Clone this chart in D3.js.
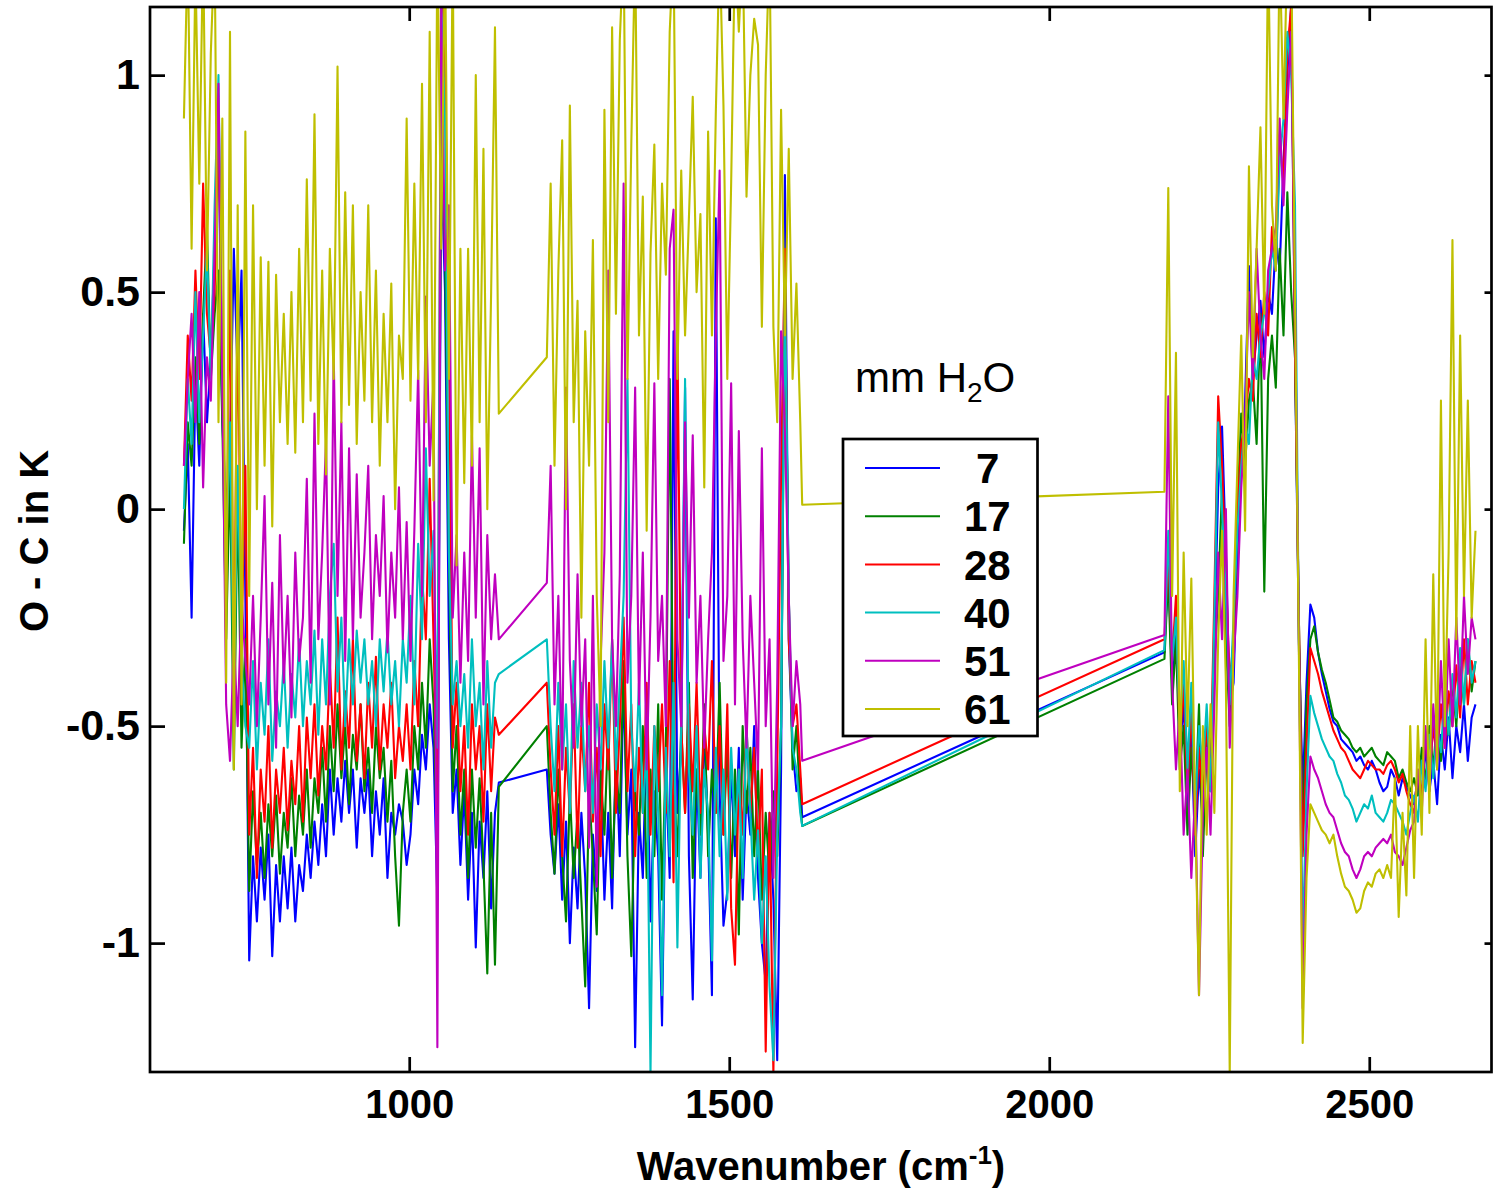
<!DOCTYPE html>
<html lang="en">
<head>
<meta charset="UTF-8">
<title>O - C residuals vs wavenumber</title>
<script src="https://d3js.org/d3.v7.min.js"></script>
<style>
  body { margin: 0; background: #fff; }
  svg text { font-family: Arial, "Liberation Sans", Helvetica, sans-serif; }
</style>
</head>
<body>
<svg id="chart" width="1493" height="1190"></svg>
<script>
// wavenumber grids of the three spectral windows (cm-1)
const band1X = [648,654,660,666,672,678,684,690,696,702,
  708,714,720,726,732,738,744,750,756,762,
  768,774,780,786,792,798,804,810,816,822,
  828,834,840,846,852,858,864,870,876,882,
  888,894,900,906,912,918,924,930,936,942,
  948,954,960,966,972,978,984,990,996,1002,
  1008,1014,1020,1026,1032,1038,1044,1050,1056,1062,
  1068,1074,1080,1086,1092,1098,1104,1110,1116,1122,
  1128,1134,1140];
const band2X = [1215,1221,1227,1233,1239,1245,1251,1257,1263,1269,
  1275,1281,1287,1293,1299,1305,1311,1317,1323,1329,
  1335,1341,1347,1353,1359,1365,1371,1377,1383,1389,
  1395,1401,1407,1413,1419,1425,1431,1437,1443,1449,
  1455,1461,1467,1473,1479,1485,1491,1497,1503,1509,
  1515,1521,1527,1533,1539,1545,1551,1557,1563,1569,
  1575,1581,1587,1593,1599,1605,1611,1614];
const band3X = [2180,2186,2192,2198,2204,2210,2216,2222,2228,2234,
  2240,2246,2252,2258,2264,2270,2276,2282,2288,2294,
  2300,2306,2312,2318,2324,2330,2336,2342,2348,2354,
  2360,2366,2372,2378,2384,2390,2396,2402,2408,2414,
  2420,2426,2432,2438,2444,2450,2456,2462,2468,2474,
  2480,2486,2492,2498,2504,2510,2516,2522,2528,2534,
  2540,2546,2552,2558,2564,2570,2576,2582,2588,2594,
  2600,2606,2612,2618,2624,2630,2636,2642,2648,2654,
  2660,2666];

// O - C (K), 7 mm H2O
const h7_b1 = [-0.05,0.15,-0.25,0.3,0.1,0.45,0.2,0.35,0.6,0.89,
  0.2,0.0,0.14,0.6,0.3,0.55,-0.2,-1.04,-0.8,-0.95,
  -0.78,-0.9,-0.75,-1.03,-0.82,-0.95,-0.8,-0.92,-0.78,-0.95,
  -0.82,-0.88,-0.75,-0.85,-0.72,-0.82,-0.68,-0.8,-0.6,-0.75,
  -0.62,-0.72,-0.58,-0.7,-0.6,-0.78,-0.62,-0.7,-0.6,-0.8,
  -0.65,-0.75,-0.62,-0.85,-0.7,-0.75,-0.68,-0.72,-0.82,-0.75,
  -0.6,-0.68,-0.52,-0.6,-0.45,-0.55,-0.9,0.8,0.5,-0.3,
  -0.7,-0.6,-0.82,-0.65,-0.9,-0.7,-1.01,-0.72,-0.85,-0.65,
  -0.92,-0.7,-0.63];
const h7_b2 = [-0.6,-0.75,-0.84,-0.68,-0.9,-0.72,-1.0,-0.78,-0.92,-0.7,
  -0.85,-1.15,-0.75,-0.88,-0.6,-0.9,-0.7,-0.92,-0.55,-0.8,
  -0.4,-0.75,-0.6,-1.24,-0.7,-0.85,-0.5,-0.95,-0.65,-0.8,
  -1.19,-0.6,-0.85,0.41,-0.7,-0.55,0.28,-0.8,-1.13,-0.6,
  -0.85,-0.5,-0.75,-1.12,0.67,-0.65,-0.96,-0.88,-0.6,-0.8,
  -0.55,-0.9,-0.65,-0.75,-0.5,-0.85,-1.0,-1.09,-0.7,-0.9,
  -1.27,-0.6,0.77,-0.3,-0.55,-0.65,-0.62,-0.71];
const h7_b3 = [-0.33,-0.13,-0.4,-0.25,-0.55,-0.45,-0.7,-0.5,-0.8,-0.6,
  -0.72,-0.5,-0.65,-0.3,0.05,0.19,-0.1,-0.45,-0.4,-0.1,
  0.1,0.25,0.56,0.3,0.4,0.48,0.35,0.5,0.45,0.62,
  0.55,0.8,1.0,1.16,0.35,-0.3,-0.65,-0.4,-0.22,-0.25,
  -0.33,-0.38,-0.42,-0.46,-0.49,-0.5,-0.53,-0.54,-0.55,-0.56,
  -0.58,-0.57,-0.59,-0.6,-0.58,-0.6,-0.63,-0.65,-0.64,-0.6,
  -0.62,-0.66,-0.62,-0.64,-0.66,-0.68,-0.62,-0.66,-0.55,-0.65,
  -0.58,-0.68,-0.52,-0.6,-0.48,-0.62,-0.5,-0.56,-0.45,-0.58,
  -0.48,-0.45];

// 17 mm H2O
const h17_b1 = [-0.08,0.2,0.1,0.35,0.15,0.45,0.65,0.3,0.45,0.55,
  0.2,-0.3,0.1,-0.6,0.05,-0.55,-0.3,-0.88,-0.65,-0.82,
  -0.7,-0.85,-0.68,-0.8,-0.66,-0.84,-0.7,-0.78,-0.62,-0.8,
  -0.66,-0.75,-0.6,-0.78,-0.62,-0.7,-0.55,-0.72,-0.5,-0.65,
  -0.45,-0.62,-0.5,-0.68,-0.52,-0.6,-0.45,-0.65,-0.55,-0.7,
  -0.5,-0.62,-0.55,-0.72,-0.58,-0.8,-0.96,-0.7,-0.6,-0.72,
  -0.5,-0.6,-0.4,-0.55,-0.3,-0.45,-0.8,0.9,0.6,-0.1,
  -0.65,-0.5,-0.75,-0.6,-0.85,-0.6,-0.78,-0.62,-0.82,-1.07,
  -0.7,-1.05,-0.64];
const h17_b2 = [-0.5,-0.7,-0.84,-0.6,-0.8,-0.95,-0.65,-0.85,-0.7,-0.9,
  -1.1,-0.65,-0.8,-0.98,-0.6,-0.75,-0.5,-0.85,-0.6,-0.7,
  -0.35,-0.8,-1.03,-0.65,-0.75,-0.5,-0.85,-0.6,-0.8,-0.45,
  -0.9,-0.55,0.3,-0.6,-0.8,-0.5,-0.7,-0.4,-0.85,-0.6,
  -0.75,-0.45,-0.8,-0.6,-0.7,-0.4,-0.75,-0.55,-0.85,-0.6,
  -0.98,-0.5,-0.7,-0.55,-0.8,-0.6,-0.9,-0.7,-0.85,-0.65,
  -0.8,-0.5,0.5,-0.2,-0.6,-0.5,-0.68,-0.73];
const h17_b3 = [-0.345,-0.15,-0.45,-0.3,-0.6,-0.5,-0.75,-0.55,-0.7,-0.45,
  -0.8,-0.55,-0.6,-0.35,-0.2,0.05,-0.3,-0.5,-0.3,0.0,
  0.22,0.1,0.25,0.3,0.15,0.45,-0.19,0.3,0.4,0.28,
  0.6,0.4,0.73,0.5,0.35,-0.25,-0.75,-0.45,-0.3,-0.27,
  -0.33,-0.37,-0.4,-0.44,-0.48,-0.49,-0.51,-0.52,-0.53,-0.55,
  -0.56,-0.55,-0.57,-0.56,-0.55,-0.57,-0.58,-0.59,-0.56,-0.57,
  -0.58,-0.62,-0.6,-0.63,-0.65,-0.62,-0.66,-0.55,-0.63,-0.5,
  -0.6,-0.48,-0.58,-0.45,-0.52,-0.4,-0.5,-0.35,-0.45,-0.3,
  -0.42,-0.35];

// 28 mm H2O
const h28_b1 = [0.1,0.4,0.25,0.55,0.3,0.75,0.45,0.35,0.5,0.88,
  0.3,-0.2,0.55,-0.4,0.47,-0.3,0.1,-0.75,-0.55,-0.85,
  -0.6,-0.72,-0.5,-0.78,-0.6,-0.7,-0.55,-0.74,-0.58,-0.68,
  -0.5,-0.72,-0.48,-0.62,-0.45,-0.66,-0.5,-0.6,-0.36,-0.55,
  -0.25,-0.6,-0.42,-0.55,-0.3,-0.58,-0.45,-0.62,-0.4,-0.55,
  -0.34,-0.6,-0.45,-0.55,-0.4,-0.62,-0.5,-0.58,-0.45,-0.6,
  -0.35,-0.5,-0.15,-0.3,0.07,-0.3,-0.7,1.3,1.0,0.4,
  -0.55,-0.4,-0.65,-0.5,-0.75,-0.45,-0.6,-0.5,-0.72,-0.45,
  -0.65,-0.48,-0.52];
const h28_b2 = [-0.4,-0.6,-0.75,-0.5,-0.8,-0.55,-0.7,-0.45,-0.78,-0.5,
  -0.65,-0.4,-0.72,-0.55,-0.8,-0.45,-0.6,-0.3,-0.7,-0.5,
  -0.25,-0.65,-0.45,-0.8,-0.55,-0.7,-0.4,-0.75,-0.5,-0.65,
  -0.45,-0.7,-0.35,-0.86,0.41,-0.5,-0.7,-0.45,-0.65,-0.4,
  -0.7,-0.5,-0.6,-0.35,-0.7,-0.5,-0.75,-0.45,-0.92,-1.05,
  -0.6,-0.75,-0.5,-0.7,-0.55,-0.8,-0.6,-1.25,-0.7,-1.3,
  -0.6,0.08,0.6,-0.3,-0.5,-0.45,-0.6,-0.68];
const h28_b3 = [-0.3,-0.1,-0.35,-0.2,-0.55,-0.4,-0.65,-0.45,-0.75,-0.55,
  -0.68,-0.5,-0.6,-0.2,0.26,0.1,-0.15,-0.4,-0.3,0.0,
  0.15,0.2,0.3,0.25,0.45,0.35,0.5,0.4,0.65,0.55,
  0.85,0.75,1.05,1.16,0.38,-0.25,-0.8,-0.55,-0.32,-0.35,
  -0.38,-0.42,-0.45,-0.48,-0.51,-0.53,-0.55,-0.56,-0.58,-0.6,
  -0.61,-0.62,-0.6,-0.58,-0.59,-0.6,-0.6,-0.61,-0.59,-0.58,
  -0.6,-0.63,-0.61,-0.65,-0.68,-0.7,-0.6,-0.66,-0.52,-0.62,
  -0.5,-0.58,-0.45,-0.55,-0.42,-0.5,-0.36,-0.48,-0.3,-0.45,
  -0.35,-0.4];

// 40 mm H2O
const h40_b1 = [0.0,0.3,0.15,0.5,0.2,0.4,0.6,0.3,0.7,1.0,
  0.3,-0.1,0.2,-0.45,0.1,-0.35,-0.5,-0.55,-0.35,-0.6,
  -0.4,-0.52,-0.3,-0.58,-0.42,-0.5,-0.35,-0.55,-0.38,-0.48,
  -0.3,-0.5,-0.35,-0.45,-0.28,-0.52,-0.3,-0.45,-0.2,-0.08,
  -0.42,-0.25,-0.5,-0.3,-0.45,-0.28,-0.4,-0.3,-0.45,-0.35,
  -0.5,-0.3,-0.42,-0.28,-0.45,-0.35,-0.5,-0.3,-0.4,-0.2,
  -0.45,-0.08,-0.3,0.14,-0.2,-0.05,-0.55,1.16,0.9,-0.1,
  -0.45,-0.35,-0.5,-0.38,-0.55,-0.3,-0.5,-0.4,-0.6,-0.35,
  -0.55,-0.4,-0.38];
const h40_b2 = [-0.3,-0.5,-0.65,-0.4,-0.6,-0.45,-0.7,-0.35,-0.55,-0.4,
  -0.65,-0.5,-0.7,-0.45,-0.6,-0.35,-0.55,-0.3,-0.6,-0.4,
  -0.2,0.3,-0.5,-0.65,-0.4,-0.7,-0.55,-1.3,-0.5,-0.7,
  -1.12,-0.55,-0.8,-0.4,-1.01,-0.5,0.3,-0.6,-0.75,-0.5,
  -0.85,-0.6,-0.7,-1.04,-0.55,-0.8,-0.6,-0.9,-0.55,-0.75,
  -0.6,-0.85,-0.5,-0.7,-0.9,-0.74,-1.0,-0.8,-1.1,-1.27,
  -0.75,-0.5,0.52,-0.2,-0.55,-0.6,-0.7,-0.73];
const h40_b3 = [-0.325,-0.05,-0.35,-0.25,-0.5,-0.35,-0.6,-0.4,-0.7,-0.5,
  -0.6,-0.45,-0.65,-0.25,0.2,0.0,-0.2,-0.45,-0.25,-0.05,
  0.1,0.2,0.15,0.35,0.3,0.4,0.45,0.5,0.6,0.55,
  0.8,0.9,1.1,1.0,0.7,-0.3,-1.0,-0.65,-0.43,-0.47,
  -0.5,-0.53,-0.55,-0.57,-0.58,-0.61,-0.63,-0.66,-0.67,-0.69,
  -0.72,-0.7,-0.68,-0.69,-0.66,-0.7,-0.71,-0.72,-0.7,-0.67,
  -0.68,-0.7,-0.72,-0.75,-0.7,-0.66,-0.72,-0.58,-0.65,-0.52,
  -0.62,-0.5,-0.56,-0.42,-0.52,-0.38,-0.48,-0.32,-0.45,-0.3,
  -0.4,-0.35];

// 51 mm H2O
const h51_b1 = [0.1,0.3,0.45,0.2,0.5,0.05,0.35,0.25,0.6,0.98,
  0.3,-0.45,-0.58,-0.3,-0.5,-0.2,-0.35,-0.45,-0.2,-0.5,
  -0.25,0.03,-0.45,-0.17,-0.55,-0.06,-0.4,-0.2,-0.48,-0.1,
  -0.35,-0.25,0.07,-0.4,0.22,-0.3,-0.1,0.16,-0.45,0.36,
  -0.2,0.2,-0.35,0.14,-0.3,0.08,-0.25,-0.1,0.1,-0.3,
  -0.06,-0.2,0.03,-0.33,-0.1,-0.25,0.05,-0.3,-0.03,-0.35,
  -0.05,0.32,-0.2,0.49,0.1,0.3,-1.24,1.16,0.55,0.7,
  -0.25,-0.06,-0.4,-0.1,-0.35,0.17,-0.25,0.14,-0.45,-0.06,
  -0.3,-0.15,-0.3];
const h51_b2 = [-0.17,0.1,-0.45,-0.2,-0.6,0.28,-0.35,-0.55,-0.15,-0.5,
  -0.3,-0.78,-0.2,-0.87,-0.35,-0.1,0.55,-0.3,-0.5,-0.15,
  0.75,-0.4,-0.2,0.28,-0.45,-0.1,-0.6,-0.25,0.29,-0.35,
  -0.2,-0.5,0.6,0.69,-0.3,-0.5,0.2,-0.25,0.17,-0.4,
  -0.2,-0.55,-0.3,-0.1,0.4,0.78,-0.35,-0.2,0.29,-0.45,
  0.18,-0.3,-0.55,-0.2,-0.4,-0.6,0.14,-0.5,-0.3,-0.85,
  -0.4,0.41,0.18,-0.2,-0.5,-0.35,-0.45,-0.58];
const h51_b3 = [-0.29,0.26,-0.4,-0.6,-0.45,-0.75,-0.6,-0.85,-0.65,-1.12,
  -0.7,-0.55,-0.75,-0.45,-0.1,-0.3,0.0,-0.55,-0.35,-0.2,
  0.05,0.2,0.5,0.3,0.6,0.4,0.3,0.55,0.6,0.65,
  0.9,0.7,0.92,1.1,0.5,-0.3,-1.15,-0.75,-0.57,-0.6,
  -0.62,-0.65,-0.68,-0.7,-0.71,-0.74,-0.77,-0.79,-0.8,-0.83,
  -0.85,-0.83,-0.8,-0.79,-0.8,-0.78,-0.77,-0.76,-0.77,-0.75,
  -0.79,-0.8,-0.82,-0.78,-0.74,-0.72,-0.6,-0.7,-0.5,-0.65,
  -0.45,-0.6,-0.35,-0.55,-0.3,-0.5,-0.25,-0.45,-0.2,-0.38,
  -0.25,-0.3];

// 61 mm H2O
const h61_b1 = [0.9,1.3,0.6,1.25,0.75,1.3,0.55,1.05,1.3,0.2,
  0.9,-0.4,1.1,-0.6,0.7,-0.45,0.87,-0.2,0.7,0.0,
  0.58,0.1,0.57,-0.04,0.54,0.2,0.45,0.15,0.5,0.13,
  0.6,0.2,0.76,0.25,0.91,0.15,0.55,0.08,0.6,0.3,
  1.02,0.2,0.73,0.24,0.7,0.15,0.5,0.25,0.7,0.2,
  0.55,0.1,0.45,0.2,0.52,0.0,0.4,0.3,0.9,0.25,
  0.75,0.3,0.98,0.2,1.1,0.02,1.3,0.6,1.3,0.3,
  1.3,-0.13,0.6,0.06,0.6,0.1,1.0,0.2,0.83,0.0,
  0.5,1.11,0.22];
const h61_b2 = [0.35,0.75,0.1,0.55,0.85,0.0,0.93,0.2,0.48,-0.25,
  0.41,0.1,0.62,-0.2,-0.5,0.92,0.2,1.11,0.45,1.08,
  1.3,0.3,0.84,1.3,0.4,0.72,-0.05,0.59,0.84,0.3,
  0.75,0.54,1.1,1.3,0.3,0.78,0.4,0.67,0.95,0.5,
  0.68,0.05,0.87,0.4,0.91,1.3,0.93,0.3,0.75,1.3,
  1.1,1.3,0.72,1.0,1.13,1.07,0.42,1.0,1.3,0.42,
  0.2,0.92,0.4,0.83,0.3,0.52,0.2,0.01];
const h61_b3 = [0.04,0.74,-0.2,0.36,-0.65,-0.1,-0.5,-0.16,-0.7,-1.12,
  -0.5,-0.75,-0.45,-0.7,-0.3,-0.05,-0.4,-1.3,-0.2,0.1,
  0.4,-0.05,0.79,0.35,0.6,0.88,0.45,1.3,0.7,0.55,
  1.3,0.9,1.3,1.3,0.48,-0.33,-1.23,-0.85,-0.68,-0.7,
  -0.72,-0.74,-0.75,-0.77,-0.75,-0.8,-0.84,-0.87,-0.88,-0.9,
  -0.93,-0.92,-0.88,-0.86,-0.87,-0.84,-0.83,-0.85,-0.82,-0.85,
  -0.62,-0.94,-0.7,-0.89,-0.5,-0.85,-0.5,-0.75,-0.3,-0.7,
  -0.15,-0.6,0.25,-0.5,-0.1,0.62,-0.3,0.4,-0.2,0.25,
  -0.25,-0.05];

const labels = ["7", "17", "28", "40", "51", "61"];
const colors = ["#0000ff", "#008000", "#ff0000", "#00bfbf", "#bf00bf", "#bfbf00"];
const xTicks = [1000, 1500, 2000, 2500];
const yTicks = [1, 0.5, 0, -0.5, -1];

const series = [
  [h7_b1, h7_b2, h7_b3],
  [h17_b1, h17_b2, h17_b3],
  [h28_b1, h28_b2, h28_b3],
  [h40_b1, h40_b2, h40_b3],
  [h51_b1, h51_b2, h51_b3],
  [h61_b1, h61_b2, h61_b3]
].map((parts, i) => {
  const pts = [];
  [band1X, band2X, band3X].forEach((xs, b) => {
    xs.forEach((xv, k) => {
      if (parts[b][k] !== undefined) pts.push([xv, parts[b][k]]);
    });
  });
  return { label: labels[i], color: colors[i], points: pts };
});

// plot box
const plotL = 150, plotR = 1491.5, plotT = 7, plotB = 1072;

const svg = d3.select("#chart");

const x = d3.scaleLinear().domain([595, 2691]).range([plotL, plotR]);
const y = d3.scaleLinear().domain([-1.297, 1.157]).range([plotB, plotT]);

svg.append("defs").append("clipPath").attr("id", "plotClip")
  .append("rect")
  .attr("x", plotL).attr("y", plotT)
  .attr("width", plotR - plotL).attr("height", plotB - plotT);

const line = d3.line()
  .x(d => x(d[0]))
  .y(d => y(d[1]));

const traces = svg.append("g").attr("clip-path", "url(#plotClip)");
series.forEach(s => {
  traces.append("path")
    .datum(s.points)
    .attr("fill", "none")
    .attr("stroke", s.color)
    .attr("stroke-width", 2.1)
    .attr("stroke-linejoin", "round")
    .attr("d", line);
});

// axes, ticks pointing inward
const fmtY = d => d === 0 ? "0" : String(d);

const axL = svg.append("g").attr("transform", `translate(${plotL},0)`)
  .call(d3.axisLeft(y).tickValues(yTicks).tickSize(-15).tickPadding(10).tickFormat(fmtY));
const axB = svg.append("g").attr("transform", `translate(0,${plotB})`)
  .call(d3.axisBottom(x).tickValues(xTicks).tickSize(-15).tickPadding(18).tickFormat(d3.format("d")));
const axT = svg.append("g").attr("transform", `translate(0,${plotT})`)
  .call(d3.axisTop(x).tickValues(xTicks).tickSize(-14).tickFormat(""));
const axR = svg.append("g").attr("transform", `translate(${plotR},0)`)
  .call(d3.axisRight(y).tickValues(yTicks).tickSize(-7).tickFormat(""));

[axL, axB, axT, axR].forEach(g => {
  g.select(".domain").remove();
  g.selectAll(".tick line").attr("stroke", "#000").attr("stroke-width", 2.7);
  g.selectAll(".tick text")
    .attr("fill", "#000")
    .style("font-size", "40px")
    .style("font-weight", "bold");
});
axL.selectAll(".tick text").style("font-size", "43px");

svg.append("rect")
  .attr("x", plotL).attr("y", plotT)
  .attr("width", plotR - plotL).attr("height", plotB - plotT)
  .attr("fill", "none")
  .attr("stroke", "#000")
  .attr("stroke-width", 2.7);

// axis titles
const xt = svg.append("text")
  .attr("x", 821).attr("y", 1180)
  .attr("text-anchor", "middle")
  .style("font-size", "40px").style("font-weight", "bold");
xt.append("tspan").text("Wavenumber (cm");
xt.append("tspan").attr("dy", -16).style("font-size", "26px").text("-1");
xt.append("tspan").attr("dy", 16).text(")");

svg.append("text")
  .attr("transform", "translate(48,541) rotate(-90)")
  .attr("text-anchor", "middle")
  .style("font-size", "40px").style("font-weight", "bold")
  .text("O - C in K");

// legend
const lt = svg.append("text")
  .attr("x", 855).attr("y", 392)
  .style("font-size", "42px");
lt.append("tspan").text("mm H");
lt.append("tspan").attr("dy", 10).style("font-size", "28px").text("2");
lt.append("tspan").attr("dy", -10).text("O");

svg.append("rect")
  .attr("x", 843).attr("y", 439)
  .attr("width", 194.5).attr("height", 297)
  .attr("fill", "#fff")
  .attr("stroke", "#000")
  .attr("stroke-width", 2.7);

const legendY = d3.scaleLinear().domain([0, 5]).range([468, 709]);
series.forEach((s, i) => {
  svg.append("line")
    .attr("x1", 865).attr("x2", 940)
    .attr("y1", legendY(i)).attr("y2", legendY(i))
    .attr("stroke", s.color).attr("stroke-width", 2);
  svg.append("text")
    .attr("x", s.label.length === 1 ? 976 : 964)
    .attr("y", legendY(i))
    .attr("dy", "0.36em")
    .style("font-size", "42px").style("font-weight", "bold")
    .text(s.label);
});
</script>
</body>
</html>
